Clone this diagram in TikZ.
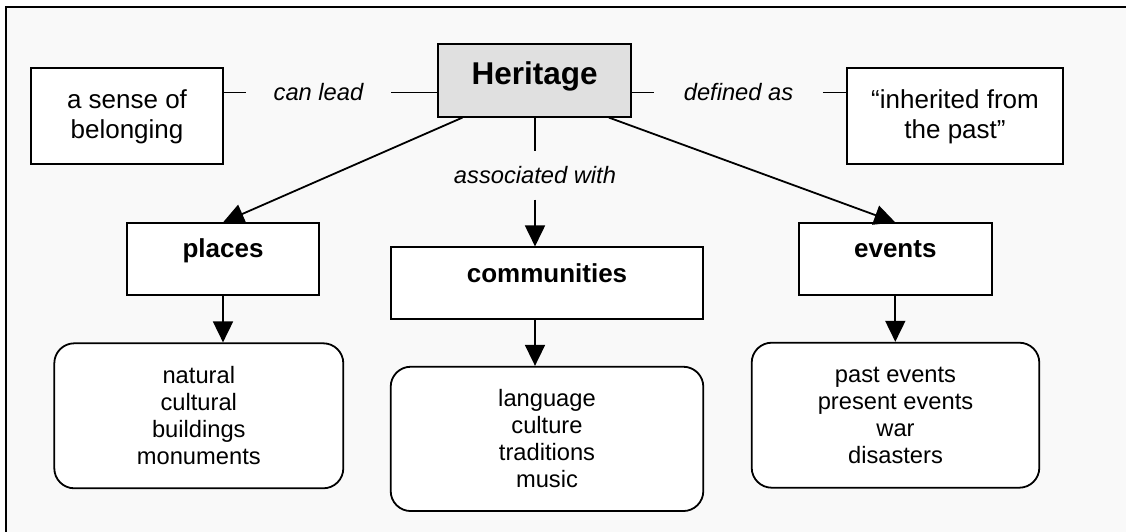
\documentclass[tikz,border=0pt]{standalone}
\usepackage{fontspec}
\setmainfont{Liberation Sans}
\usetikzlibrary{arrows.meta}

\definecolor{pagebg}{RGB}{249,249,249}
\definecolor{topfill}{RGB}{224,224,224}

\tikzset{
  frameline/.style={line width=1.8pt, line cap=rect},
  conceptbox/.style={draw, line width=1.8pt, fill=white, inner sep=0pt},
  listbox/.style={conceptbox, rounded corners=20pt, align=center,
    font=\fontsize{23.7}{27}\selectfont},
  quotebox/.style={conceptbox, align=center,
    font=\fontsize{26}{30}\selectfont},
  headtext/.style={anchor=base, inner sep=0pt, font=\bfseries\fontsize{26}{30}\selectfont},
  linktext/.style={inner sep=0pt, font=\itshape\fontsize{23.7}{27}\selectfont},
  link/.style={line width=1.8pt},
  arrowlink/.style={line width=1.8pt, -{Triangle[length=21pt,width=20pt]}}
}

\begin{document}
\begin{tikzpicture}[x=1pt,y=-1pt]
  \useasboundingbox (0,0) rectangle (1126,532);
  % page background and the framing lines
  \fill[white] (0,0) rectangle (1126,532);
  \fill[pagebg] (6,7) rectangle (1126,532);
  \draw[frameline] (6,534) -- (6,7) -- (1128,7);

  % top row
  \node[conceptbox, fill=topfill, minimum width=192.7pt, minimum height=72.4pt]
    (heritage) at (534.7,80.5) {};
  \node[headtext, font=\bfseries\fontsize{31.5}{36}\selectfont]
    (heritageT) at ([yshift=-40.7pt]heritage.north) {Heritage};
  \node[quotebox, minimum width=192.6pt, minimum height=96pt]
    (sense) at (127,116.3) {a sense of\\belonging};
  \node[quotebox, minimum width=216.6pt, minimum height=96pt]
    (inherit) at (955,116.3) {“inherited from\\the past”};

  % link labels
  \node[linktext, minimum width=145pt] (canlead) at (318.5,92.5) {can lead};
  \node[linktext, minimum width=168.4pt] (definedas) at (738.5,92.5) {defined as};
  \node[linktext, minimum height=48.6pt] (assoc) at (535,175) {associated with};

  % middle row
  \node[conceptbox, minimum width=192.6pt, minimum height=72pt]
    (places) at (223,259.3) {};
  \node[headtext] (placesT) at ([yshift=-35pt]places.north) {places};
  \node[conceptbox, minimum width=312.6pt, minimum height=71.7pt]
    (comm) at (547,283.2) {};
  \node[headtext] (commT) at ([yshift=-36pt]comm.north) {communities};
  \node[conceptbox, minimum width=192.7pt, minimum height=72pt]
    (events) at (895.3,259.3) {};
  \node[headtext] (eventsT) at ([yshift=-35pt]events.north) {events};

  % bottom row
  \node[listbox, minimum width=289pt, minimum height=145pt]
    (placesL) at (198.8,415.8) {natural\\cultural\\buildings\\monuments};
  \node[listbox, minimum width=312.6pt, minimum height=144.3pt]
    (commL) at (547,438.9) {language\\culture\\traditions\\music};
  \node[listbox, minimum width=287.6pt, minimum height=145pt]
    (eventsL) at (895.5,415.2) {past events\\present events\\war\\disasters};

  % horizontal links
  \draw[link] (canlead.west -| sense.east) -- (canlead.west);
  \draw[link] (canlead.east) -- (canlead.east -| heritage.west);
  \draw[link] (definedas.west -| heritage.east) -- (definedas.west);
  \draw[link] (definedas.east) -- (definedas.east -| inherit.west);

  % links down from Heritage
  \draw[arrowlink] ([xshift=25pt]heritage.south west) -- (places.north);
  \draw[arrowlink] ([xshift=-23pt]heritage.south east) -- (events.north);
  \draw[link] (assoc.north |- heritage.south) -- (assoc.north);
  \draw[arrowlink] (assoc.south) -- (assoc.south |- comm.north);

  % links to the lists
  \draw[arrowlink] (places.south) -- (places.south |- placesL.north);
  \draw[arrowlink] (assoc.south |- comm.south) -- (assoc.south |- commL.north);
  \draw[arrowlink] (events.south) -- (events.south |- eventsL.north);
\end{tikzpicture}
\end{document}
